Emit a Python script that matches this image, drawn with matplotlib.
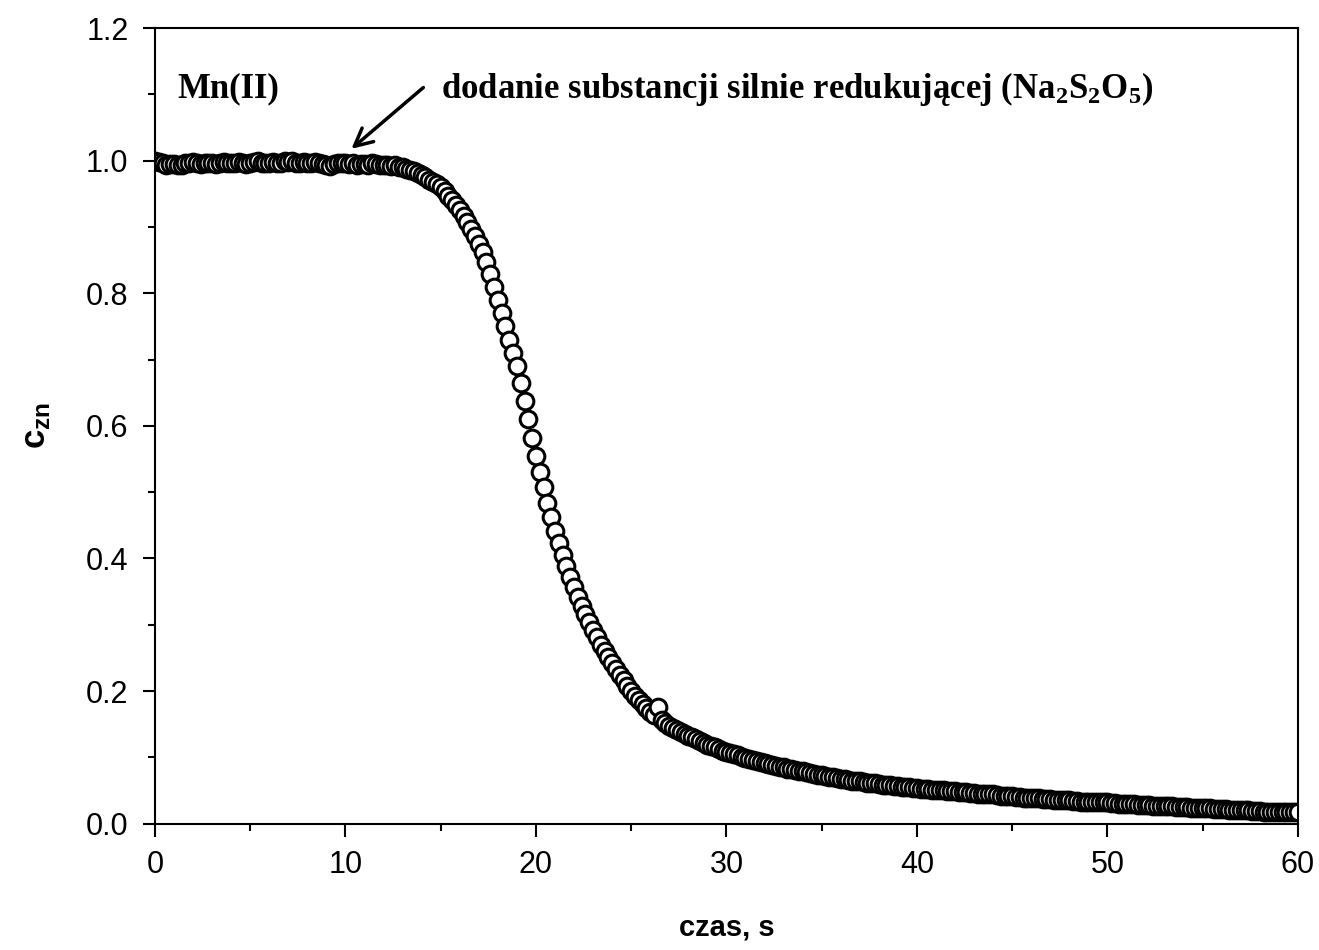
import numpy as np
import matplotlib
matplotlib.use("Agg")
import matplotlib.pyplot as plt
from matplotlib.ticker import MultipleLocator

# sampling step of the recording, s
dt = 0.2

# normalised concentration c_zn, one value per 0.2 s (0 .. 60 s)
c_zn = [
    1.000, 0.998, 0.996, 0.994, 0.995,
    0.995, 0.993, 0.994, 0.996, 0.997,
    0.998, 0.996, 0.995, 0.996, 0.997,
    0.996, 0.995, 0.997, 0.998, 0.996,
    0.997, 0.996, 0.998, 0.997, 0.995,
    0.997, 0.998, 0.999, 0.997, 0.996,
    0.997, 0.998, 0.996, 0.997, 0.999,
    0.998, 1.000, 0.997, 0.996, 0.998,
    0.997, 0.996, 0.998, 0.997, 0.995,
    0.994, 0.992, 0.995, 0.997, 0.996,
    0.996, 0.995, 0.996, 0.994, 0.995,
    0.995, 0.994, 0.996, 0.995, 0.993,
    0.994, 0.993, 0.992, 0.993, 0.991,
    0.990, 0.988, 0.986, 0.984, 0.981,
    0.978, 0.975, 0.971, 0.968, 0.964,
    0.960, 0.954, 0.947, 0.940, 0.933,
    0.925, 0.917, 0.907, 0.897, 0.886,
    0.875, 0.862, 0.847, 0.829, 0.810,
    0.790, 0.770, 0.750, 0.730, 0.710,
    0.690, 0.665, 0.637, 0.610, 0.582,
    0.555, 0.530, 0.508, 0.484, 0.462,
    0.442, 0.423, 0.405, 0.388, 0.372,
    0.357, 0.342, 0.329, 0.316, 0.304,
    0.292, 0.281, 0.270, 0.260, 0.251,
    0.242, 0.233, 0.224, 0.216, 0.208,
    0.200, 0.193, 0.187, 0.181, 0.175,
    0.169, 0.164, 0.176, 0.156, 0.152,
    0.147, 0.144, 0.141, 0.138, 0.135,
    0.132, 0.130, 0.127, 0.125, 0.122,
    0.119, 0.117, 0.115, 0.113, 0.110,
    0.108, 0.106, 0.105, 0.103, 0.101,
    0.099, 0.097, 0.096, 0.094, 0.093,
    0.091, 0.090, 0.089, 0.087, 0.086,
    0.085, 0.083, 0.082, 0.081, 0.080,
    0.079, 0.078, 0.076, 0.075, 0.074,
    0.073, 0.072, 0.071, 0.070, 0.069,
    0.068, 0.067, 0.066, 0.065, 0.064,
    0.064, 0.063, 0.062, 0.061, 0.061,
    0.060, 0.059, 0.058, 0.058, 0.057,
    0.057, 0.056, 0.055, 0.055, 0.054,
    0.054, 0.053, 0.053, 0.052, 0.051,
    0.051, 0.050, 0.050, 0.049, 0.049,
    0.049, 0.048, 0.047, 0.047, 0.046,
    0.046, 0.045, 0.045, 0.044, 0.044,
    0.044, 0.043, 0.042, 0.042, 0.041,
    0.041, 0.040, 0.040, 0.039, 0.039,
    0.039, 0.038, 0.038, 0.037, 0.037,
    0.037, 0.036, 0.036, 0.035, 0.035,
    0.035, 0.034, 0.034, 0.033, 0.033,
    0.033, 0.033, 0.032, 0.032, 0.032,
    0.032, 0.031, 0.031, 0.030, 0.030,
    0.030, 0.029, 0.029, 0.028, 0.028,
    0.028, 0.028, 0.027, 0.027, 0.027,
    0.027, 0.026, 0.026, 0.025, 0.025,
    0.025, 0.025, 0.024, 0.024, 0.024,
    0.024, 0.023, 0.023, 0.022, 0.022,
    0.022, 0.022, 0.021, 0.021, 0.021,
    0.021, 0.020, 0.020, 0.019, 0.019,
    0.019, 0.018, 0.018, 0.018, 0.018,
    0.018, 0.017, 0.017, 0.017, 0.017,
    0.017,
]
time_s = np.arange(len(c_zn)) * dt

# where the reducing agent was added (arrow tip) and where the label sits
t_add, c_add = 10.2, 1.015
label_sub = "Mn(II)"
label_add = r"dodanie substancji silnie redukującej (Na$_2$S$_2$O$_5$)"

plt.rcParams["font.family"] = "Liberation Sans"
plt.rcParams["mathtext.fontset"] = "custom"
plt.rcParams["mathtext.rm"] = "Liberation Serif:bold"
plt.rcParams["mathtext.bf"] = "Liberation Sans:bold"
plt.rcParams["mathtext.default"] = "rm"

fig = plt.figure(figsize=(13.19, 9.5), dpi=100)
ax = fig.add_axes([0.1175, 0.133, 0.8665, 0.8375])

ax.plot(time_s, c_zn, linestyle="none", marker="o", markersize=12,
        markerfacecolor="white", markeredgecolor="black", markeredgewidth=2.2)

ax.set_xlim(0, 60)
ax.set_ylim(0, 1.2)
ax.xaxis.set_major_locator(MultipleLocator(10))
ax.xaxis.set_minor_locator(MultipleLocator(5))
ax.yaxis.set_major_locator(MultipleLocator(0.2))
ax.yaxis.set_minor_locator(MultipleLocator(0.1))
ax.yaxis.set_major_formatter(plt.FuncFormatter(lambda v, p: f"{v:.1f}"))
ax.tick_params(which="major", direction="out", length=9, width=1.5,
               labelsize=22, pad=10)
ax.tick_params(which="minor", direction="out", length=5, width=1.5)
for s in ax.spines.values():
    s.set_linewidth(1.5)

ax.set_xlabel("czas, s", fontsize=21, fontweight="bold", labelpad=24)
ax.set_ylabel(r"$\mathbf{c_{zn}}$", fontsize=25, labelpad=24)

ax.text(1.2, 1.108, label_sub, fontsize=25, fontweight="bold",
        family="Liberation Serif", va="center", ha="left")
ax.text(15.0, 1.108, label_add, fontsize=25, fontweight="bold",
        family="Liberation Serif", va="center", ha="left")
ax.annotate("", xy=(t_add, c_add), xytext=(14.2, 1.113),
            arrowprops=dict(arrowstyle="->", lw=2.5, color="black",
                            mutation_scale=32))

fig.savefig("out.png", dpi=100)
